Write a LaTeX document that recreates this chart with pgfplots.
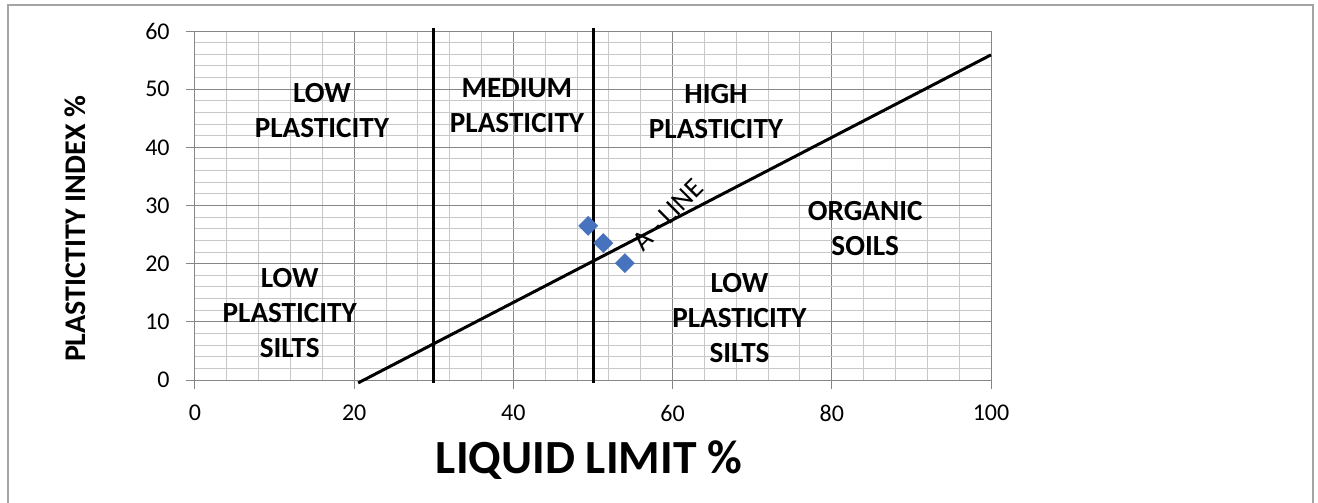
\documentclass[border=0pt]{standalone}
\usepackage{fontspec}
\setmainfont{Carlito}
\usepackage{pgfplots}
\pgfplotsset{compat=1.18}
\definecolor{majgrid}{RGB}{134,134,134}
\definecolor{mingrid}{RGB}{200,200,200}
\definecolor{axgray}{RGB}{134,134,134}
\definecolor{mblue}{RGB}{70,114,190}
\definecolor{frame}{RGB}{165,165,165}
\begin{document}
\begin{tikzpicture}
\useasboundingbox (-97.5bp,-61.5bp) rectangle (561.5bp,190bp);
\draw[frame, line width=0.75bp] (-93.5bp,-70bp) -- (-93.5bp,187.5bp) -- (559bp,187.5bp) -- (559bp,-70bp);
\begin{axis}[
  at={(0,0)}, anchor=south west,
  scale only axis, width=398bp, height=174.5bp,
  xmin=0, xmax=100, ymin=0, ymax=60,
  xtick={0,20,...,100}, ytick={0,10,...,60},
  minor x tick num=4, minor y tick num=4,
  grid=both,
  major grid style={majgrid, line width=0.5bp},
  minor grid style={mingrid, line width=0.5bp},
  axis x line*=bottom, axis y line*=left,
  axis line style={axgray, line width=0.5bp},
  tick style={axgray, line width=0.5bp},
  major tick length=4.5bp, minor tick length=0pt,
  tick align=outside,
  /pgf/number format/assume math mode=true,
  ticklabel style={font=\fontsize{12bp}{14bp}\selectfont, text=black},
  xticklabel style={anchor=north, inner sep=0pt, yshift=-8bp},
  yticklabel style={anchor=east, inner sep=0pt, xshift=-8bp},
  xlabel={LIQUID LIMIT \%},
  xlabel style={at={(axis description cs:0.495,-0.2693)}, anchor=base, font=\fontsize{23.8bp}{28bp}\selectfont\bfseries},
  ylabel={PLASTICTITY INDEX \%},
  ylabel style={at={(axis description cs:-0.151,0.433)}, anchor=center, font=\fontsize{15bp}{18bp}\selectfont\bfseries},
  clip=false,
]
\addplot[black, line width=1.5bp] coordinates {(20.5,-0.5) (100,55.9)};
\addplot[black, line width=1.5bp] coordinates {(30,-0.5) (30,60.5)};
\addplot[black, line width=1.5bp] coordinates {(50,-0.5) (50,60.5)};
\addplot[only marks, mark=square*, mark size=3.3bp, mark options={fill=mblue, draw=mblue, rotate=45}] coordinates {(49.4,26.5) (51.3,23.55) (54.0,20.1)};
\begin{scope}[every node/.style={align=center, font=\fontsize{14.6bp}{17.5bp}\selectfont\bfseries}]
\node at (axis cs:15.95,46.3) {LOW\\PLASTICITY};
\node at (axis cs:40.45,47.2) {MEDIUM\\PLASTICITY};
\node at (axis cs:65.45,46.2) {HIGH\\PLASTICITY};
\node at (axis cs:84.2,25.96) {ORGANIC\\SOILS};
\node at (axis cs:11.9,11.5) {LOW\\PLASTICITY\\SILTS};
\node at (axis cs:68.4,10.66) {LOW\\PLASTICITY\\SILTS};
\end{scope}
\node[rotate=45, inner sep=0pt, font=\fontsize{14bp}{16bp}\selectfont] at (axis cs:59.4,28.4) {A - LINE};
\end{axis}
\end{tikzpicture}
\end{document}
